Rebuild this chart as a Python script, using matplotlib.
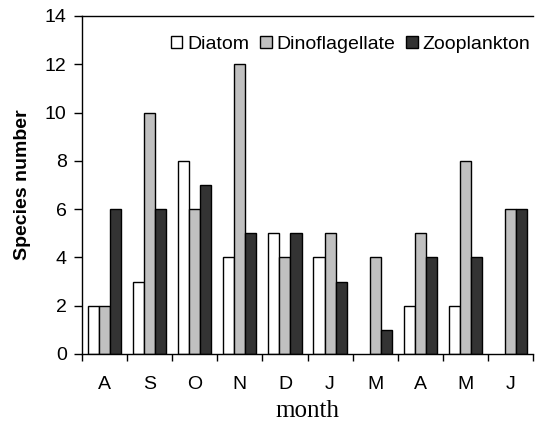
import numpy as np
import matplotlib
matplotlib.use("Agg")
import matplotlib.pyplot as plt

months = ["A", "S", "O", "N", "D", "J", "M", "A", "M", "J"]
diatom = [2, 3, 8, 4, 5, 4, 0, 2, 2, 0]
dinoflagellate = [2, 10, 6, 12, 4, 5, 4, 5, 8, 6]
zooplankton = [6, 6, 7, 5, 5, 3, 1, 4, 4, 6]

plt.rcParams["font.family"] = ["Liberation Sans", "DejaVu Sans"]

fig = plt.figure(figsize=(5.35, 4.3), dpi=100)
ax = fig.add_axes([82 / 535, 1 - 354 / 430, 451 / 535, 338 / 430])

x = np.arange(len(months))
w = 0.245
series = [(diatom, "white", "Diatom"),
          (dinoflagellate, "#c0c0c0", "Dinoflagellate"),
          (zooplankton, "#333333", "Zooplankton")]
for i, (vals, col, name) in enumerate(series):
    bars = ax.bar(x + (i - 1) * w, vals, w, color=col, edgecolor="black",
                  linewidth=1, label=name)
    # empty months show no bar outline
    for b, v in zip(bars, vals):
        if v == 0:
            b.set_visible(False)

ax.set_xlim(-0.5, len(months) - 0.5)
ax.set_ylim(0, 14)
ax.set_yticks(range(0, 15, 2))
ax.set_xticks(x)
ax.set_xticklabels(months)
ax.set_xticks(np.arange(-0.5, len(months), 1), minor=True)
ax.tick_params(axis="x", which="major", length=0, pad=16, labelsize=14)
ax.tick_params(axis="x", which="minor", length=5, width=1)
ax.tick_params(axis="y", length=6, width=1, labelsize=14, pad=5)

ax.spines["right"].set_visible(False)
for s in ["left", "top", "bottom"]:
    ax.spines[s].set_linewidth(1)

ax.set_ylabel("Species number", fontsize=14, fontweight="bold", labelpad=10)
ax.set_xlabel("month", fontsize=18, family="Liberation Serif", labelpad=5)

ax.legend(loc="upper right", frameon=False, fontsize=14, ncol=3,
          handlelength=0.6, handleheight=0.6, handletextpad=0.25,
          columnspacing=0.55, borderaxespad=0.2, bbox_to_anchor=(1.02, 0.975))

fig.savefig("out.png", dpi=100)
